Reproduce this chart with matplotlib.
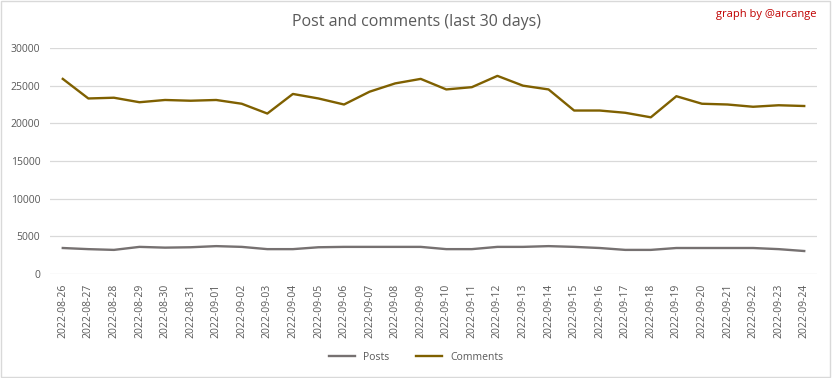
import numpy as np
import pandas as pd
import matplotlib.pyplot as plt

# daily counts
dates = pd.date_range("2022-08-26", "2022-09-24").strftime("%Y-%m-%d").tolist()
posts = [3450, 3300, 3200, 3600, 3500, 3550, 3700, 3600, 3300, 3300,
         3550, 3600, 3600, 3600, 3600, 3300, 3300, 3600, 3600, 3700,
         3600, 3450, 3200, 3200, 3450, 3450, 3450, 3450, 3300, 3050]
comments = [25900, 23300, 23400, 22800, 23100, 23000, 23100, 22600, 21300, 23900,
            23300, 22500, 24200, 25300, 25900, 24500, 24800, 26300, 25000, 24500,
            21700, 21700, 21400, 20800, 23600, 22600, 22500, 22200, 22400, 22300]
yticks = [0, 5000, 10000, 15000, 20000, 25000, 30000]

plt.rcParams['font.family'] = ['Open Sans', 'DejaVu Sans']
txt = '#595959'

fig = plt.figure(figsize=(8.32, 3.78), dpi=100)
ax = fig.add_axes([50/832, 104/378, 767/832, 226/378])

x = np.arange(len(dates))
ax.plot(x, posts, color='#767171', lw=1.7, label='Posts')
ax.plot(x, comments, color='#7f6000', lw=1.7, label='Comments')

ax.set_xlim(-0.5, len(dates) - 0.5)
ax.set_ylim(0, 30000)
ax.set_yticks(yticks)
ax.set_yticklabels([str(v) for v in yticks], fontsize=7.5, color=txt)
ax.set_xticks(x)
ax.set_xticklabels(dates, rotation=90, fontsize=7.5, color=txt)
ax.tick_params(length=0, pad=7)
ax.grid(axis='y', color='#d9d9d9', lw=0.9)
ax.set_axisbelow(True)
for s in ax.spines.values():
    s.set_visible(False)

fig.text(0.5, 1 - 22/378, 'Post and comments (last 30 days)', ha='center', va='center',
         fontsize=11.5, color=txt)
fig.text(817/832, 1 - 15/378, 'graph by @arcange', ha='right', va='center',
         fontsize=8, color='#c00000')

fig.legend(loc='center', bbox_to_anchor=(0.5, 1 - 357/378), ncol=2, frameon=False,
           fontsize=7.5, labelcolor=txt, handlelength=2.5, columnspacing=2.5)

# light border round the whole picture
fig.patches.append(plt.Rectangle((0.001, 0.002), 0.997, 0.995, transform=fig.transFigure,
                                 fill=False, edgecolor='#d9d9d9', lw=1))

fig.savefig('out.png', dpi=100)
